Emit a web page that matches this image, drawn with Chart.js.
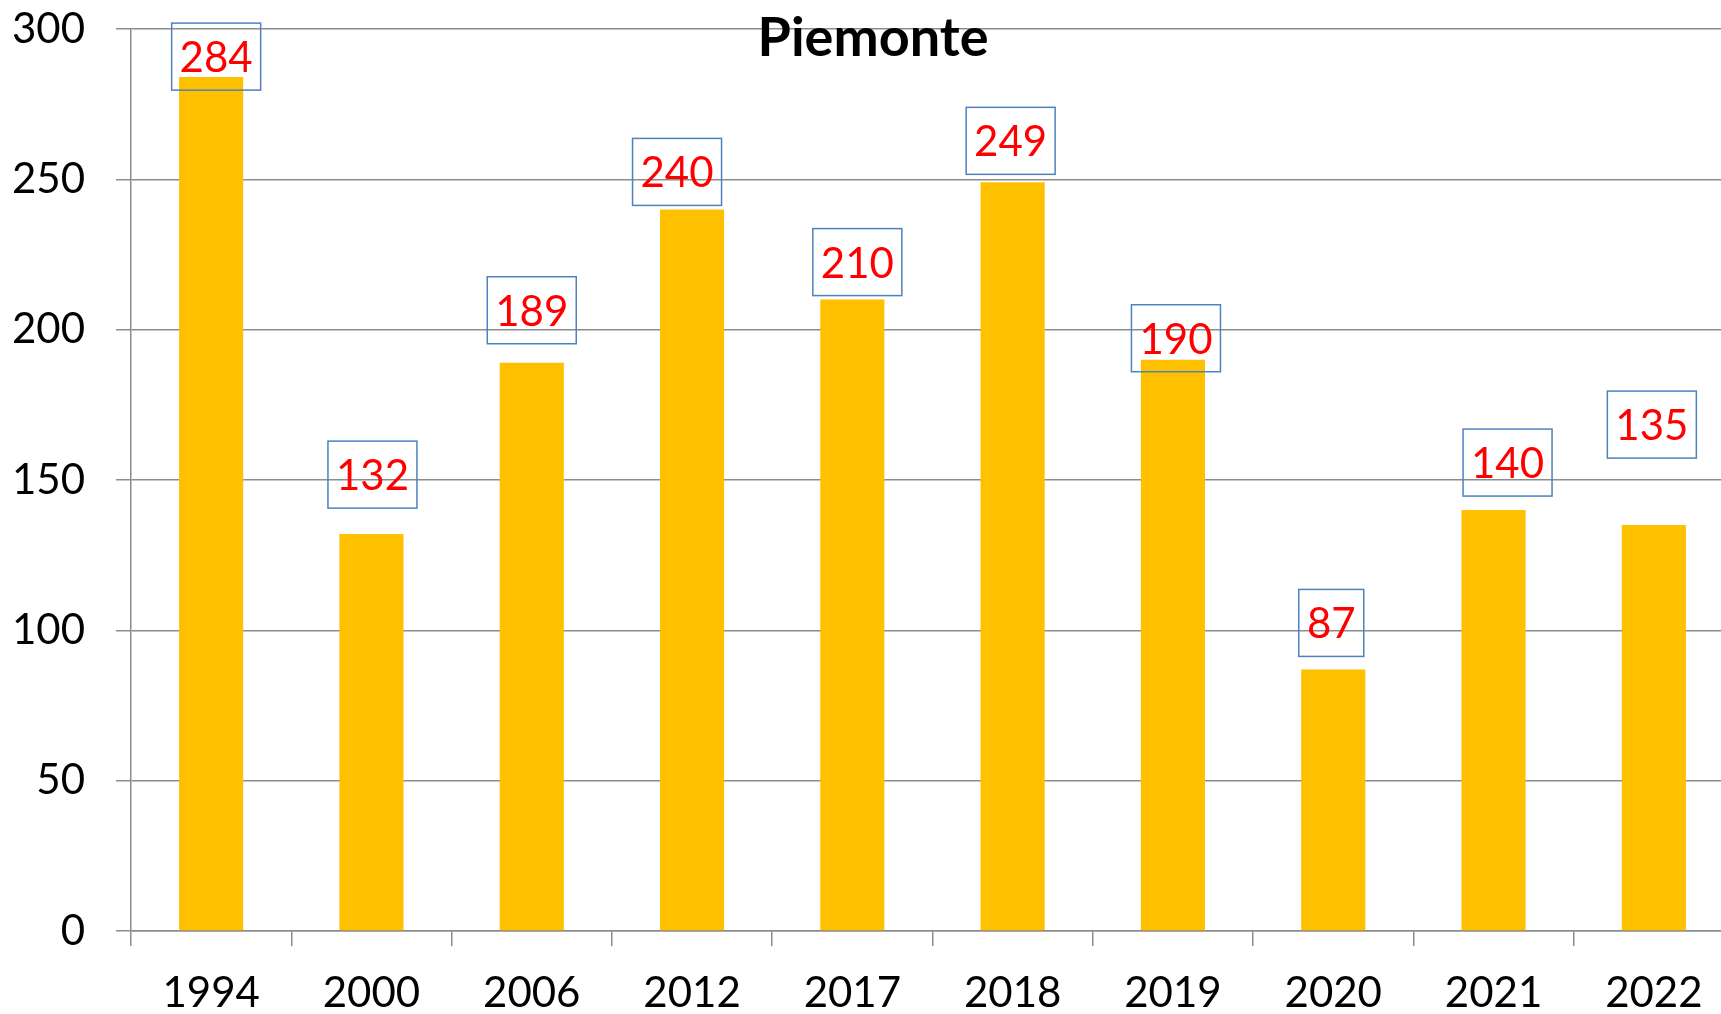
<!DOCTYPE html>
<html>
<head>
<meta charset="utf-8">
<script src="https://cdn.jsdelivr.net/npm/chart.js@4.4.1/dist/chart.umd.min.js"></script>
<style>
html,body{margin:0;padding:0;background:#fff;overflow:hidden;}
#wrap{width:1740px;height:1014px;position:relative;}
</style>
</head>
<body>
<div id="wrap"><canvas id="c" width="1740" height="1014"></canvas></div>
<script>
const categories = ['1994','2000','2006','2012','2017','2018','2019','2020','2021','2022'];
const values = [284,132,189,240,210,249,190,87,140,135];
const yTicks = [0,50,100,150,200,250,300];
const chartTitle = 'Piemonte';

// label box placement style (pixel offsets relative to bar top / bar center)
const labelGap = [-13,26,19,4,4,8,-12,13,14,67];
const labelShiftX = [5,1,0,-15,5,-2,3,-2,14,-2];

const FONT = 'Lato, "Open Sans", sans-serif';

const labelPlugin = {
  id: 'boxLabels',
  afterDatasetsDraw(chart) {
    const ctx = chart.ctx;
    const meta = chart.getDatasetMeta(0);
    ctx.save();
    ctx.font = '42px ' + FONT;
    ctx.textAlign = 'center';
    ctx.textBaseline = 'middle';
    meta.data.forEach((bar, i) => {
      const txt = String(values[i]);
      const w = txt.length >= 3 ? 89 : 65;
      const h = 67;
      const cx = bar.x + labelShiftX[i];
      const bottom = bar.y - labelGap[i];
      const top = bottom - h;
      ctx.strokeStyle = '#4F81BD';
      ctx.lineWidth = 1.5;
      ctx.strokeRect(cx - w/2, top, w, h);
      ctx.fillStyle = '#FF0000';
      ctx.fillText(txt, cx, top + h/2 + 2);
    });
    ctx.restore();
  }
};

const titlePlugin = {
  id: 'topTitle',
  afterDraw(chart) {
    const ctx = chart.ctx;
    ctx.save();
    ctx.font = 'bold 54px ' + FONT;
    ctx.textAlign = 'center';
    ctx.textBaseline = 'alphabetic';
    ctx.fillStyle = '#000';
    ctx.fillText(chartTitle, 873, 56);
    ctx.restore();
  }
};

new Chart(document.getElementById('c'), {
  type: 'bar',
  data: {
    labels: categories,
    datasets: [{
      data: values,
      backgroundColor: '#FFC000',
      borderWidth: 0,
      categoryPercentage: 1.0,
      barPercentage: 0.4
    }]
  },
  options: {
    responsive: false,
    animation: false,
    events: [],
    layout: { padding: { top: 29, right: 6, left: 0, bottom: 0 } },
    plugins: { legend: { display: false }, title: { display: false }, tooltip: { enabled: false } },
    scales: {
      x: {
        grid: { display: true, drawOnChartArea: false, drawTicks: true, tickLength: 15, color: '#8c8c8c', lineWidth: 1.5, offset: true },
        border: { display: true, color: '#8c8c8c', width: 1.5 },
        ticks: { color: '#000', font: { family: FONT, size: 42 }, padding: 22, maxRotation: 0, autoSkip: false },
        afterFit(scale) { scale.height = 83; scale.paddingLeft = 0; scale.paddingRight = 0; }
      },
      y: {
        min: 0, max: 300,
        afterBuildTicks(scale) { scale.ticks = yTicks.map(v => ({ value: v })); },
        grid: { color: '#8c8c8c', lineWidth: 1.5, tickLength: 15, drawTicks: true },
        border: { display: true, color: '#8c8c8c', width: 1.5 },
        ticks: { color: '#000', font: { family: FONT, size: 42 }, padding: 31 },
        afterFit(scale) { scale.width = 131; scale.paddingTop = 0; scale.paddingBottom = 0; }
      }
    }
  },
  plugins: [labelPlugin, titlePlugin]
});
</script>
</body>
</html>
